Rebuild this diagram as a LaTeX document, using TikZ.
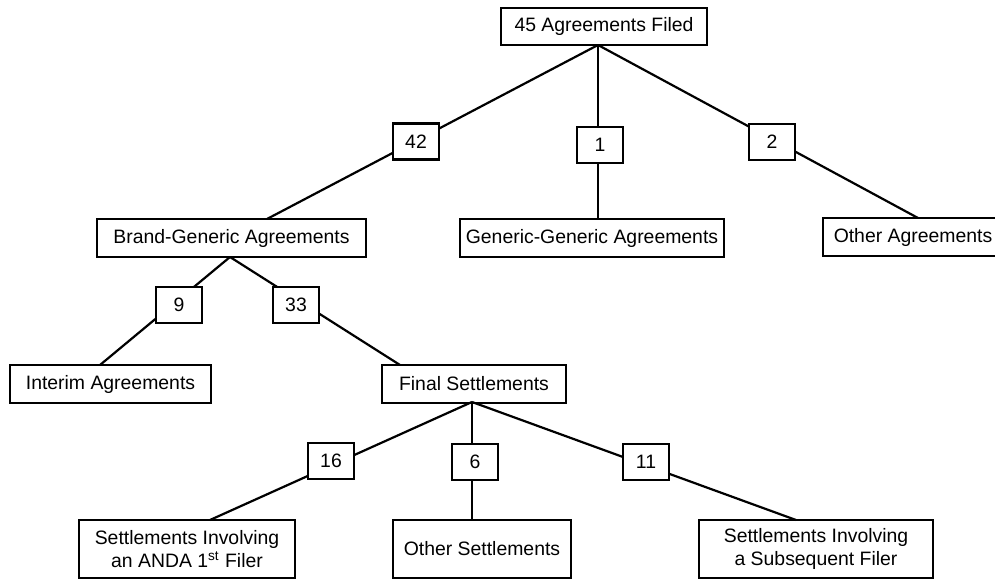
\documentclass[tikz,border=0pt]{standalone}
\usepackage{fontspec}
\setmainfont{Liberation Sans}
\begin{document}
\begin{tikzpicture}[x=0.5pt,y=-0.5pt,
  box/.style={draw=black,line width=1.1pt,fill=white,inner sep=0pt,align=center,
    font=\fontsize{9.7}{11.6}\selectfont},
  numbox/.style={box,minimum width=23pt,minimum height=18pt},
  conn/.style={draw=black,line width=1.1pt}]
\useasboundingbox (0,0) rectangle (995,582);
% category boxes
\node[box,minimum width=103pt,minimum height=18.5pt] (top) at (604,26.5) {45 Agreements Filed};
\node[box,minimum width=134.5pt,minimum height=19pt] (bg) at (231.5,238) {Brand-Generic Agreements};
\node[box,minimum width=132pt,minimum height=19pt] (gg) at (592,238) {Generic-Generic Agreements};
\node[box,minimum width=90pt,minimum height=19pt] (oa) at (913,237) {Other Agreements};
\node[box,minimum width=100.5pt,minimum height=19pt] (ia) at (110.5,384) {Interim Agreements};
\node[box,minimum width=92pt,minimum height=19pt] (fs) at (474,384) {Final Settlements};
\node[box,minimum width=108pt,minimum height=29pt] (anda) at (187,549) {Settlements Involving\\an ANDA 1\textsuperscript{st} Filer};
\node[box,minimum width=89pt,minimum height=29pt] (os) at (482,549) {Other Settlements};
\node[box,minimum width=117pt,minimum height=29pt] (sub) at (816,549) {Settlements Involving\\a Subsequent Filer};
% junction / end coordinates
\coordinate (jtop) at (598,45);
\coordinate (jbg) at (230,257);
\coordinate (jfs) at (472,402);
\coordinate (ebg) at (267,219);
\coordinate (egg) at (598,219);
\coordinate (eoa) at (918,218);
\coordinate (eia) at (100,365);
\coordinate (efs) at (400,365);
\coordinate (eanda) at (210,520);
\coordinate (eos) at (472,520);
\coordinate (esub) at (796,520);
% connectors
\draw[conn] (jtop) -- (ebg);
\draw[conn] (jtop) -- (egg);
\draw[conn] (jtop) -- (eoa);
\draw[conn] (jbg) -- (eia);
\draw[conn] (jbg) -- (efs);
\draw[conn] (jfs) -- (eanda);
\draw[conn] (jfs) -- (eos);
\draw[conn] (jfs) -- (esub);
% number boxes
\node[numbox] (n42) at (416,141.5) {42};
\node[numbox] (n1) at (600,145) {1};
\node[numbox] (n2) at (772,142) {2};
\node[numbox] (n9) at (179,305) {9};
\node[numbox] (n33) at (296,305) {33};
\node[numbox] (n16) at (331,461) {16};
\node[numbox] (n6) at (475,462) {6};
\node[numbox] (n11) at (646,462) {11};
\end{tikzpicture}
\end{document}
